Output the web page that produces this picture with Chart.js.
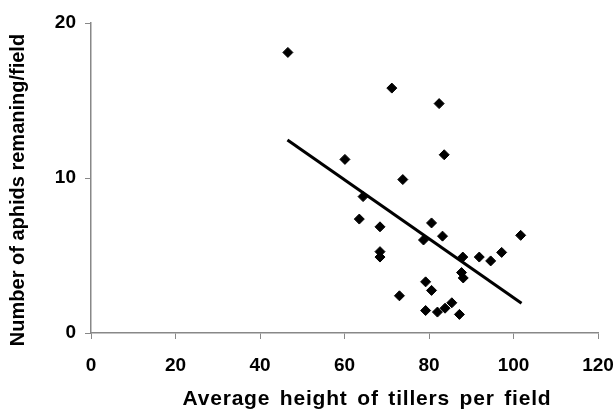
<!DOCTYPE html>
<html>
<head>
<meta charset="utf-8">
<script src="https://cdn.jsdelivr.net/npm/chart.js@4/dist/chart.umd.min.js"></script>
<style>
    html, body { margin: 0; padding: 0; background: #fff; }
    #wrap { width: 616px; height: 411px; position: relative; }
</style>
</head>
<body>
<div id="wrap"><canvas id="myChart"></canvas></div>
<script>
// tiller height per field (x) and aphids remaining per field (y)
const tillerHeight = [46.6, 71.2, 82.4, 83.6, 60.1, 73.8, 64.4, 63.5, 68.4, 80.6,
    83.2, 78.7, 68.4, 68.4, 88.0, 91.9, 94.6, 97.2, 101.7, 87.7,
    88.1, 79.2, 80.6, 73.0, 79.2, 82.0, 83.8, 85.4, 87.2];
const aphidsRemaining = [18.1, 15.8, 14.8, 11.5, 11.2, 9.9, 8.8, 7.35, 6.85, 7.1,
    6.25, 6.0, 5.25, 4.9, 4.9, 4.9, 4.65, 5.2, 6.3, 3.9,
    3.55, 3.3, 2.75, 2.4, 1.45, 1.35, 1.6, 1.95, 1.2];

// fitted trend line
const trendX = [46.5, 101.9];
const trendY = [12.45, 1.92];

const xTicks = [0, 20, 40, 60, 80, 100, 120];
const yTicks = [0, 10, 20];

const xTitle = 'Average height of tillers per field';
const yTitle = 'Number of aphids remaning/field';

// axis titles drawn by hand so they sit where the original has them
const axisTitles = {
    id: 'axis_titles',
    afterDraw: (chart) => {
        const { ctx } = chart;
        ctx.save();
        ctx.fillStyle = '#000';
        ctx.font = 'bold 21px "Liberation Sans", Arial, sans-serif';
        ctx.textAlign = 'center';
        ctx.textBaseline = 'alphabetic';
        ctx.letterSpacing = '0.8px';
        ctx.wordSpacing = '3px';
        ctx.fillText(xTitle, 367, 405);
        ctx.letterSpacing = '0px';
        ctx.wordSpacing = '0px';
        ctx.font = 'bold 20px "Liberation Sans", Arial, sans-serif';
        ctx.translate(24, 190);
        ctx.rotate(-Math.PI / 2);
        ctx.fillText(yTitle, 0, 0);
        ctx.restore();
    }
};

init();

function init() {
    Chart.defaults.font.family = '"Liberation Sans", Arial, sans-serif';
    Chart.defaults.font.weight = 'bold';
    Chart.defaults.color = '#000';
    createChart();
}

function toPoints(xs, ys) {
    return xs.map((x, i) => ({ x: x, y: ys[i] }));
}

function createChart() {
    const ctx = document.getElementById('myChart').getContext('2d');

    new Chart(ctx, {
        type: 'scatter',
        data: {
            datasets: [
                {
                    label: 'Fields',
                    data: toPoints(tillerHeight, aphidsRemaining),
                    pointStyle: 'rectRot',
                    pointRadius: 5,
                    pointBorderWidth: 1,
                    backgroundColor: '#000',
                    borderColor: '#000',
                    showLine: false
                },
                {
                    label: 'Trend',
                    data: toPoints(trendX, trendY),
                    showLine: true,
                    borderColor: '#000',
                    borderWidth: 3,
                    pointRadius: 0
                }
            ]
        },
        options: {
            responsive: true,
            maintainAspectRatio: false,
            animation: false,
            layout: {
                padding: { top: 23, right: 18, bottom: 0, left: 0 }
            },
            plugins: {
                legend: { display: false },
                tooltip: { enabled: false }
            },
            scales: {
                x: {
                    type: 'linear',
                    min: 0,
                    max: 120,
                    afterFit: (scale) => {
                        scale.height = 78;
                        scale.paddingLeft = 0;
                        scale.paddingRight = 0;
                    },
                    afterBuildTicks: (scale) => { scale.ticks = xTicks.map(v => ({ value: v })); },
                    border: { color: '#888', width: 1.5 },
                    grid: { drawOnChartArea: false, tickLength: 6, color: '#888', lineWidth: 1 },
                    ticks: { font: { size: 19, weight: 'bold' }, padding: 15, color: '#000' }
                },
                y: {
                    type: 'linear',
                    min: 0,
                    max: 20,
                    afterFit: (scale) => {
                        scale.width = 91;
                        scale.paddingTop = 0;
                        scale.paddingBottom = 0;
                    },
                    afterBuildTicks: (scale) => { scale.ticks = yTicks.map(v => ({ value: v })); },
                    border: { color: '#888', width: 1.5 },
                    grid: { drawOnChartArea: false, tickLength: 6, color: '#888', lineWidth: 1 },
                    ticks: { font: { size: 19, weight: 'bold' }, padding: 9, color: '#000' }
                }
            }
        },
        plugins: [axisTitles]
    });
}
</script>
</body>
</html>
